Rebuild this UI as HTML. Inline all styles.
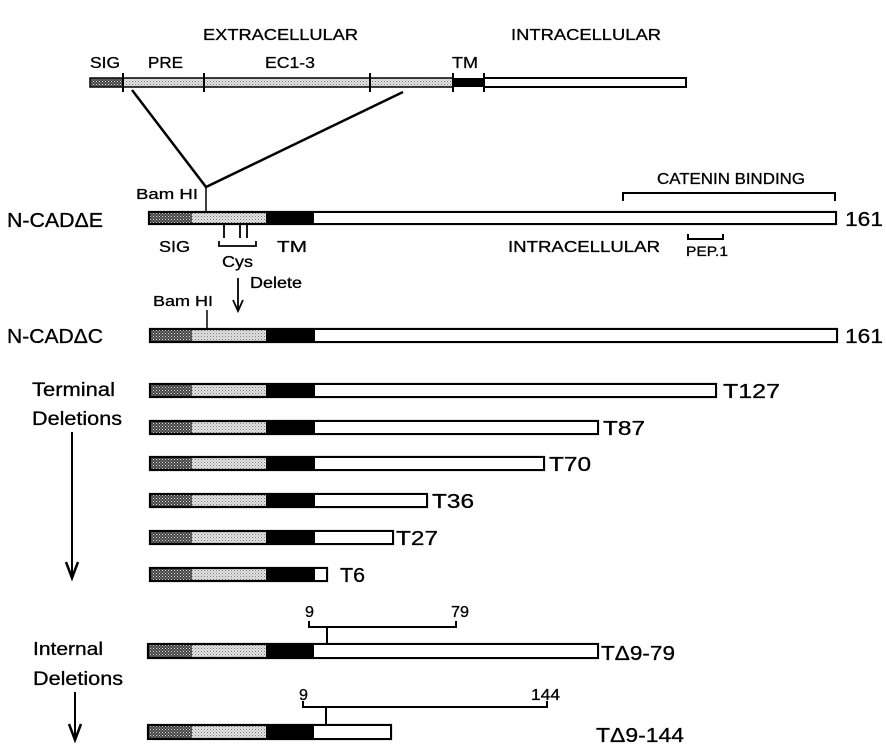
<!DOCTYPE html>
<html><head><meta charset="utf-8"><style>
html,body{margin:0;padding:0;background:#fff}
svg{display:block}
text{font-family:"Liberation Sans",Arial,sans-serif;fill:#000;stroke:#000;stroke-width:0.3}
</style></head><body>
<svg width="886" height="751" viewBox="0 0 886 751" xmlns="http://www.w3.org/2000/svg">
<defs>
<pattern id="dk" width="3" height="3" patternUnits="userSpaceOnUse"><rect width="3" height="3" fill="#444"/><rect x="0" y="0" width="1" height="1" fill="#ddd"/><rect x="1.5" y="1.5" width="1" height="1" fill="#bbb"/></pattern>
<pattern id="lt" width="3" height="3" patternUnits="userSpaceOnUse"><rect width="3" height="3" fill="#e4e4e4"/><rect x="0" y="0" width="1" height="1" fill="#777"/><rect x="1.5" y="1.5" width="1" height="1" fill="#999"/></pattern>
</defs>

<!-- top -->
<g font-size="16">
<text x="203" y="40" textLength="155" lengthAdjust="spacingAndGlyphs">EXTRACELLULAR</text>
<text x="511" y="40" textLength="150" lengthAdjust="spacingAndGlyphs">INTRACELLULAR</text>
<text x="90" y="68" textLength="30" lengthAdjust="spacingAndGlyphs">SIG</text>
<text x="148" y="68" textLength="35" lengthAdjust="spacingAndGlyphs">PRE</text>
<text x="265" y="68" textLength="50" lengthAdjust="spacingAndGlyphs">EC1-3</text>
<text x="452" y="68" textLength="26" lengthAdjust="spacingAndGlyphs">TM</text>
</g>
<rect x="90" y="78" width="33" height="9" fill="url(#dk)" stroke="#000" stroke-width="1.5"/>
<rect x="123" y="78" width="330" height="9" fill="url(#lt)" stroke="#000" stroke-width="1.5"/>
<rect x="453" y="78" width="31" height="9" fill="#000"/>
<path d="M484 78 H686 V87 H484" fill="#fff" stroke="#000" stroke-width="2"/>
<g stroke="#000" stroke-width="2">
<line x1="123" y1="73" x2="123" y2="92"/><line x1="204" y1="73" x2="204" y2="92"/>
<line x1="370" y1="73" x2="370" y2="92"/><line x1="453" y1="73" x2="453" y2="92"/><line x1="484" y1="73" x2="484" y2="92"/>
<polyline points="132,90 206,187 403,92" fill="none" stroke-width="2.5"/>
<line x1="206" y1="187" x2="206" y2="212" stroke-width="1.5"/>
</g>
<text x="136" y="199" font-size="15" textLength="62" lengthAdjust="spacingAndGlyphs">Bam HI</text>

<!-- N-CAD dE -->
<text x="7" y="227" font-size="20" textLength="96" lengthAdjust="spacingAndGlyphs">N-CADΔE</text>
<rect x="149" y="212" width="43" height="12" fill="url(#dk)"/>
<rect x="192" y="212" width="74" height="12" fill="url(#lt)"/>
<rect x="266" y="212" width="48" height="12" fill="#000"/>
<rect x="149" y="212" width="687" height="12" fill="none" stroke="#000" stroke-width="2.2"/>
<rect x="314" y="213" width="521" height="10" fill="#fff"/>
<text x="845" y="226" font-size="20" textLength="38" lengthAdjust="spacingAndGlyphs">161</text>
<text x="657" y="184" font-size="16" textLength="148" lengthAdjust="spacingAndGlyphs">CATENIN  BINDING</text>
<polyline points="623,201 623,193 835,193 835,201" fill="none" stroke="#000" stroke-width="2"/>
<text x="159" y="252" font-size="16" textLength="31" lengthAdjust="spacingAndGlyphs">SIG</text>
<text x="277" y="252" font-size="16" textLength="30" lengthAdjust="spacingAndGlyphs">TM</text>
<text x="508" y="252" font-size="16" textLength="152" lengthAdjust="spacingAndGlyphs">INTRACELLULAR</text>
<polyline points="688,234 688,239 723,239 723,234" fill="none" stroke="#000" stroke-width="2"/>
<text x="686" y="256" font-size="14" textLength="42" lengthAdjust="spacingAndGlyphs">PEP.1</text>
<g stroke="#000" stroke-width="1.8" fill="none">
<polyline points="219,241 219,246 256,246 256,241"/>
<line x1="224" y1="225" x2="224" y2="238"/><line x1="240" y1="225" x2="240" y2="238"/><line x1="247" y1="225" x2="247" y2="238"/>
<line x1="238" y1="278" x2="238" y2="309"/>
<polyline points="233,300 238,311 243,300"/>
</g>
<text x="222" y="267" font-size="16" textLength="31" lengthAdjust="spacingAndGlyphs">Cys</text>
<text x="250" y="288" font-size="16" textLength="52" lengthAdjust="spacingAndGlyphs">Delete</text>
<text x="153" y="306" font-size="15" textLength="60" lengthAdjust="spacingAndGlyphs">Bam HI</text>
<line x1="207" y1="310" x2="207" y2="329" stroke="#000" stroke-width="1.5"/>

<!-- N-CAD dC -->
<text x="7" y="343" font-size="20" textLength="96" lengthAdjust="spacingAndGlyphs">N-CADΔC</text>
<rect x="150" y="329" width="42" height="13" fill="url(#dk)"/>
<rect x="192" y="329" width="74" height="13" fill="url(#lt)"/>
<rect x="266" y="329" width="49" height="13" fill="#000"/>
<rect x="150" y="329" width="687" height="13" fill="none" stroke="#000" stroke-width="2.2"/>
<rect x="315" y="330" width="521" height="11" fill="#fff"/>
<text x="845" y="343" font-size="20" textLength="38" lengthAdjust="spacingAndGlyphs">161</text>

<!-- terminal -->
<text x="32" y="396" font-size="19" textLength="83" lengthAdjust="spacingAndGlyphs">Terminal</text>
<text x="32" y="425" font-size="19" textLength="90" lengthAdjust="spacingAndGlyphs">Deletions</text>
<line x1="72" y1="432" x2="72" y2="577" stroke="#000" stroke-width="2"/>
<polyline points="66,562 72,578 78,562" fill="none" stroke="#000" stroke-width="2.5"/>

<g fill="none">
<g>
<rect x="150" y="384" width="42" height="13" fill="url(#dk)"/><rect x="192" y="384" width="74" height="13" fill="url(#lt)"/><rect x="266" y="384" width="49" height="13" fill="#000"/>
<rect x="150" y="384" width="566" height="13" stroke="#000" stroke-width="2.2"/><rect x="315" y="385" width="400" height="11" fill="#fff"/>
</g>
<g>
<rect x="150" y="421" width="42" height="13" fill="url(#dk)"/><rect x="192" y="421" width="74" height="13" fill="url(#lt)"/><rect x="266" y="421" width="49" height="13" fill="#000"/>
<rect x="150" y="421" width="448" height="13" stroke="#000" stroke-width="2.2"/><rect x="315" y="422" width="282" height="11" fill="#fff"/>
</g>
<g>
<rect x="150" y="457" width="42" height="13" fill="url(#dk)"/><rect x="192" y="457" width="74" height="13" fill="url(#lt)"/><rect x="266" y="457" width="49" height="13" fill="#000"/>
<rect x="150" y="457" width="394" height="13" stroke="#000" stroke-width="2.2"/><rect x="315" y="458" width="228" height="11" fill="#fff"/>
</g>
<g>
<rect x="150" y="494" width="42" height="13" fill="url(#dk)"/><rect x="192" y="494" width="74" height="13" fill="url(#lt)"/><rect x="266" y="494" width="49" height="13" fill="#000"/>
<rect x="150" y="494" width="277" height="13" stroke="#000" stroke-width="2.2"/><rect x="315" y="495" width="111" height="11" fill="#fff"/>
</g>
<g>
<rect x="150" y="531" width="42" height="13" fill="url(#dk)"/><rect x="192" y="531" width="74" height="13" fill="url(#lt)"/><rect x="266" y="531" width="49" height="13" fill="#000"/>
<rect x="150" y="531" width="243" height="13" stroke="#000" stroke-width="2.2"/><rect x="315" y="532" width="77" height="11" fill="#fff"/>
</g>
<g>
<rect x="150" y="568" width="42" height="13" fill="url(#dk)"/><rect x="192" y="568" width="74" height="13" fill="url(#lt)"/><rect x="266" y="568" width="49" height="13" fill="#000"/>
<rect x="150" y="568" width="177" height="13" stroke="#000" stroke-width="2.2"/><rect x="315" y="569" width="11" height="11" fill="#fff"/>
</g>
</g>
<g font-size="20">
<text x="723" y="398" textLength="57" lengthAdjust="spacingAndGlyphs">T127</text>
<text x="603" y="435" textLength="42" lengthAdjust="spacingAndGlyphs">T87</text>
<text x="549" y="471" textLength="42" lengthAdjust="spacingAndGlyphs">T70</text>
<text x="432" y="508" textLength="42" lengthAdjust="spacingAndGlyphs">T36</text>
<text x="396" y="545" textLength="42" lengthAdjust="spacingAndGlyphs">T27</text>
<text x="340" y="582" textLength="25" lengthAdjust="spacingAndGlyphs">T6</text>
</g>

<!-- internal -->
<text x="33" y="655" font-size="18" textLength="70" lengthAdjust="spacingAndGlyphs">Internal</text>
<text x="33" y="685" font-size="19" textLength="90" lengthAdjust="spacingAndGlyphs">Deletions</text>
<line x1="75" y1="692" x2="75" y2="739" stroke="#000" stroke-width="2"/>
<polyline points="69,724 75,740 81,724" fill="none" stroke="#000" stroke-width="2.5"/>

<g stroke="#000" stroke-width="2" fill="none">
<polyline points="309,621 309,627 456,627 456,621"/>
<line x1="327" y1="627" x2="327" y2="643"/>
<polyline points="303,701 303,707 547,707 547,701"/>
<line x1="326" y1="707" x2="326" y2="724"/>
</g>
<g font-size="16">
<text x="305" y="617" textLength="9" lengthAdjust="spacingAndGlyphs">9</text><text x="451" y="617" textLength="18" lengthAdjust="spacingAndGlyphs">79</text>
<text x="299" y="700" textLength="9" lengthAdjust="spacingAndGlyphs">9</text><text x="531" y="700" textLength="29" lengthAdjust="spacingAndGlyphs">144</text>
</g>
<rect x="148" y="644" width="44" height="14" fill="url(#dk)"/><rect x="192" y="644" width="74" height="14" fill="url(#lt)"/><rect x="266" y="644" width="48" height="14" fill="#000"/>
<rect x="148" y="644" width="450" height="14" fill="none" stroke="#000" stroke-width="2.2"/><rect x="314" y="645" width="283" height="12" fill="#fff"/>
<rect x="148" y="725" width="44" height="14" fill="url(#dk)"/><rect x="192" y="725" width="74" height="14" fill="url(#lt)"/><rect x="266" y="725" width="48" height="14" fill="#000"/>
<rect x="148" y="725" width="243" height="14" fill="none" stroke="#000" stroke-width="2.2"/><rect x="314" y="726" width="76" height="12" fill="#fff"/>
<text x="601" y="660" font-size="20" textLength="74" lengthAdjust="spacingAndGlyphs">TΔ9-79</text>
<text x="596" y="742" font-size="20" textLength="88" lengthAdjust="spacingAndGlyphs">TΔ9-144</text>
</svg>
</body></html>
